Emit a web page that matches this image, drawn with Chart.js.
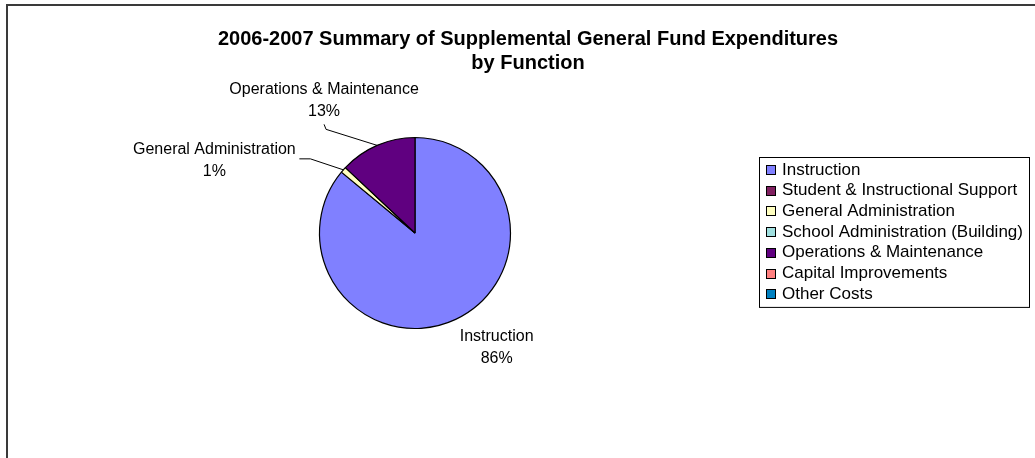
<!DOCTYPE html>
<html>
<head>
<meta charset="utf-8">
<title>2006-2007 Summary of Supplemental General Fund Expenditures by Function</title>
<script src="https://cdn.jsdelivr.net/npm/chart.js@4.4.1/dist/chart.umd.min.js"></script>
<style>
  html, body { margin: 0; padding: 0; background: #ffffff; overflow: hidden; }
  #wrap { position: relative; width: 1035px; height: 458px; }
  #frame { position: absolute; left: 6px; top: 4px; width: 1100px; height: 520px;
           border: 2px solid #3a3a3a; box-sizing: border-box; }
  canvas { position: absolute; left: 0; top: 0; }
</style>
</head>
<body>
<div id="wrap">
  <div id="frame"></div>
  <canvas id="chart" width="1035" height="458"></canvas>
</div>
<script>
// Spending categories, in the order they are drawn (clockwise from 12 o'clock)
const categories = [
  'Instruction',
  'Student & Instructional Support',
  'General Administration',
  'School Administration (Building)',
  'Operations & Maintenance',
  'Capital Improvements',
  'Other Costs'
];

// Share of supplemental general fund spending, percent
const shares = [86, 0, 1, 0, 13, 0, 0];

// Fill colours for each category
const sliceColors = ['#8080ff', '#802060', '#ffffc0', '#a0e0e0', '#600080', '#ff8080', '#0080c0'];

const titleLines = [
  '2006-2007 Summary of Supplemental General Fund Expenditures',
  'by Function'
];

const FONT = '"Liberation Sans", Arial, Helvetica, sans-serif';

// Where each slice label sits relative to the point on the rim at the slice's
// middle angle; `leader` lists the bends of the connector line, if any.
const labelPlacement = {
  0: { dx: 41, dy: 17, leader: null },
  2: { dx: -129, dy: -20, leader: [[-33, -11], [-44, -11]] },
  4: { dx: -53, dy: -56, leader: [[-51, -16], [-53, -21]] }
};

const titlePlugin = {
  id: 'chartTitle',
  afterDraw(chart) {
    const ctx = chart.ctx;
    ctx.save();
    ctx.fillStyle = '#000';
    ctx.font = 'bold 20px ' + FONT;
    ctx.textAlign = 'center';
    ctx.textBaseline = 'middle';
    titleLines.forEach((line, i) => ctx.fillText(line, 528, 39 + i * 24));
    ctx.restore();
  }
};

const sliceLabelPlugin = {
  id: 'sliceLabels',
  afterDatasetsDraw(chart) {
    const ctx = chart.ctx;
    const meta = chart.getDatasetMeta(0);
    const data = chart.data.datasets[0].data;
    const total = data.reduce((a, b) => a + b, 0);
    ctx.save();
    ctx.font = '16px ' + FONT;
    ctx.fillStyle = '#000';
    ctx.strokeStyle = '#000';
    ctx.lineWidth = 1;
    ctx.textAlign = 'center';
    ctx.textBaseline = 'middle';
    meta.data.forEach((arc, i) => {
      const place = labelPlacement[i];
      if (!place || !data[i]) return;
      const p = arc.getProps(['x', 'y', 'startAngle', 'endAngle', 'outerRadius'], true);
      const mid = (p.startAngle + p.endAngle) / 2;
      const ex = p.x + Math.cos(mid) * p.outerRadius;
      const ey = p.y + Math.sin(mid) * p.outerRadius;
      if (place.leader) {
        ctx.beginPath();
        ctx.moveTo(ex, ey);
        place.leader.forEach(([lx, ly]) => ctx.lineTo(ex + lx, ey + ly));
        ctx.stroke();
      }
      const pct = Math.round(data[i] / total * 100) + '%';
      ctx.fillText(chart.data.labels[i], ex + place.dx, ey + place.dy);
      ctx.fillText(pct, ex + place.dx, ey + place.dy + 22);
    });
    ctx.restore();
  }
};

const legendPlugin = {
  id: 'boxLegend',
  afterDraw(chart) {
    const ctx = chart.ctx;
    const colors = chart.data.datasets[0].backgroundColor;
    const x = 759, y = 157, w = 270, rowH = 20.7;
    const h = chart.data.labels.length * rowH + 5;
    ctx.save();
    ctx.fillStyle = '#fff';
    ctx.fillRect(x, y, w, h);
    ctx.strokeStyle = '#000';
    ctx.lineWidth = 1;
    ctx.strokeRect(x + 0.5, y + 0.5, w, h);
    ctx.font = '17px ' + FONT;
    ctx.textBaseline = 'middle';
    ctx.textAlign = 'left';
    chart.data.labels.forEach((label, i) => {
      const cy = y + 13 + i * rowH;
      ctx.fillStyle = colors[i];
      ctx.fillRect(766, Math.round(cy - 5), 10, 10);
      ctx.strokeStyle = '#000';
      ctx.strokeRect(766.5, Math.round(cy - 5) + 0.5, 9, 9);
      ctx.fillStyle = '#000';
      ctx.fillText(label, 782, cy);
    });
    ctx.restore();
  }
};

new Chart(document.getElementById('chart'), {
  type: 'pie',
  data: {
    labels: categories,
    datasets: [{
      data: shares,
      backgroundColor: sliceColors,
      borderColor: '#000',
      borderWidth: 1.2
    }]
  },
  options: {
    responsive: false,
    animation: false,
    radius: 95.5,
    rotation: 0,
    layout: { padding: { left: 300, right: 505, top: 120, bottom: 112 } },
    plugins: {
      legend: { display: false },
      title: { display: false },
      tooltip: { enabled: false }
    },
    events: []
  },
  plugins: [titlePlugin, sliceLabelPlugin, legendPlugin]
});
</script>
</body>
</html>
